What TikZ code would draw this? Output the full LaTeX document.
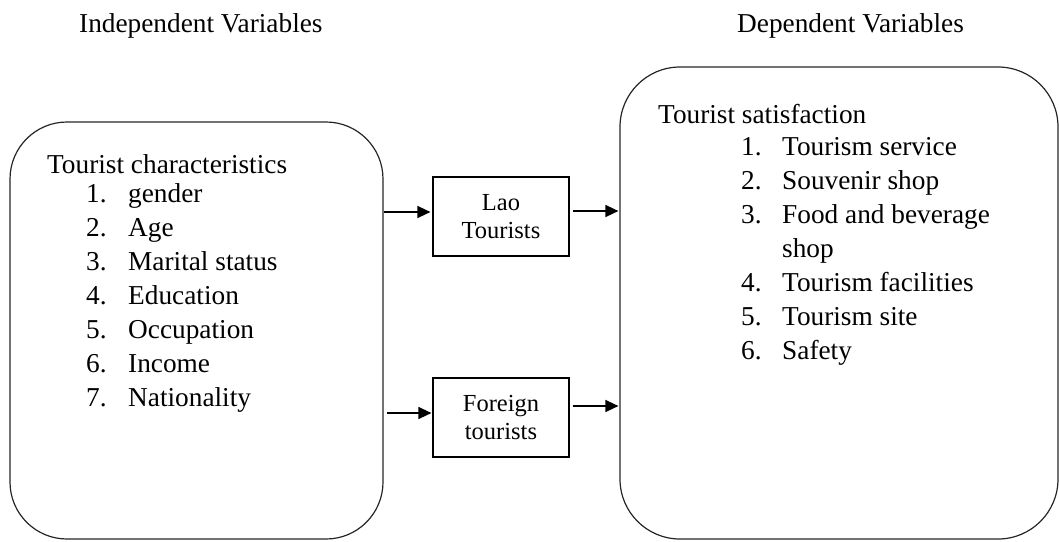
\documentclass[tikz,border=0pt]{standalone}
\usepackage{fontspec}
\setmainfont{Liberation Serif}
\usetikzlibrary{arrows.meta,calc}

\tikzset{
  bigbox/.style={draw=black!85, line width=1.2pt, rounded corners=57pt, inner sep=0pt},
  groupbox/.style={draw, line width=1.2pt, inner sep=0pt, minimum width=136pt, minimum height=79pt,
    align=center, font=\fontsize{24.5}{28}\selectfont},
  txt/.style={anchor=base west, inner sep=0pt, font=\fontsize{27.3}{34}\selectfont},
  arr/.style={line width=1.4pt, -{Triangle[length=13pt,width=12pt]}}
}

\begin{document}
\begin{tikzpicture}[x=1pt, y=-1pt]
  \useasboundingbox (0,0) rectangle (1059,541);

  % column headings
  \node[txt] (hindep) at (79,32) {Independent Variables};
  \node[txt] (hdep) at (737,32) {Dependent Variables};

  % the two large rounded boxes
  \node[bigbox, minimum width=373pt, minimum height=417pt] (indep) at (196.5,330.5) {};
  \node[bigbox, rounded corners=60pt, minimum width=438pt, minimum height=472pt] (dep) at (839,303) {};

  % tourist groups
  \node[groupbox] (lao) at (501,216.5) {Lao\\Tourists};
  \node[groupbox] (foreign) at (501,417.5) {Foreign\\tourists};

  % independent variables list
  \node[txt] (ctitle) at (47,173) {Tourist characteristics};
  \foreach \t [count=\i] in {gender, Age, Marital status, Education, Occupation, Income, Nationality} {
    \node[txt] (cn\i) at (86,{202+34.15*(\i-1)}) {\i.};
    \node[txt] (ct\i) at (128,{202+34.15*(\i-1)}) {\t};
  }

  % dependent variables list
  \node[txt] (stitle) at (658,123) {Tourist satisfaction};
  \node[txt] (sn1) at (741,155) {1.};
  \node[txt] (st1) at (782,155) {Tourism service};
  \node[txt] (sn2) at (741,189) {2.};
  \node[txt] (st2) at (782,189) {Souvenir shop};
  \node[txt] (sn3) at (741,223) {3.};
  \node[txt] (st3) at (782,223) {Food and beverage};
  \node[txt] (st3b) at (782,257) {shop};
  \node[txt] (sn4) at (741,291) {4.};
  \node[txt] (st4) at (782,291) {Tourism facilities};
  \node[txt] (sn5) at (741,325) {5.};
  \node[txt] (st5) at (782,325) {Tourism site};
  \node[txt] (sn6) at (741,359) {6.};
  \node[txt] (st6) at (782,359) {Safety};

  % connector end points
  \coordinate (laoin) at ($(lao.west)+(-2,-4.5)$);
  \coordinate (laoout) at ($(lao.east)+(3,-5.5)$);
  \coordinate (forin) at ($(foreign.west)+(-1,-4.5)$);
  \coordinate (forout) at ($(foreign.east)+(3,-11.5)$);

  \draw[arr] (indep.east |- laoin) -- (laoin);
  \draw[arr] ($(indep.east |- forin)+(3,0)$) -- (forin);
  \draw[arr] (laoout) -- ($(dep.west |- laoout)+(-1,0)$);
  \draw[arr] (forout) -- ($(dep.west |- forout)+(-1,0)$);
\end{tikzpicture}
\end{document}
